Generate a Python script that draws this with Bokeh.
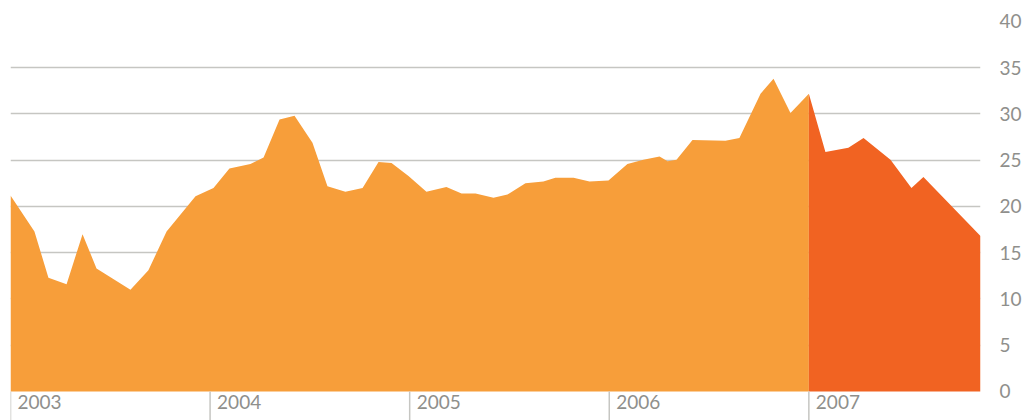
from bokeh.plotting import figure
from bokeh.models import Range1d, FixedTicker, LinearAxis
from bokeh.core.properties import value
from bokeh.embed import file_html
from bokeh.resources import INLINE

# Historical series (decimal year, value)
hist_x = [2003.000, 2003.120, 2003.190, 2003.281, 2003.361, 2003.431, 2003.601, 2003.691,
          2003.782, 2003.927, 2004.017, 2004.097, 2004.202, 2004.268, 2004.348, 2004.423,
          2004.513, 2004.588, 2004.678, 2004.764, 2004.844, 2004.909, 2004.994, 2005.084,
          2005.184, 2005.260, 2005.330, 2005.420, 2005.490, 2005.580, 2005.670, 2005.730,
          2005.821, 2005.901, 2005.996, 2006.091, 2006.171, 2006.252, 2006.292, 2006.337,
          2006.417, 2006.582, 2006.652, 2006.758, 2006.823, 2006.908, 2007.000]
hist_y = [21.2, 17.3, 12.3, 11.6, 17.0, 13.3, 11.0, 13.1,
          17.3, 21.1, 22.0, 24.1, 24.6, 25.3, 29.4, 29.8,
          26.9, 22.2, 21.6, 22.0, 24.8, 24.7, 23.3, 21.6,
          22.1, 21.4, 21.4, 20.95, 21.3, 22.5, 22.7, 23.1,
          23.1, 22.7, 22.8, 24.6, 25.05, 25.4, 24.9, 25.05,
          27.2, 27.1, 27.4, 32.2, 33.8, 30.1, 32.2]

# 2007 series
cur_x = [2007.000, 2007.083, 2007.198, 2007.274, 2007.409, 2007.514, 2007.574, 2007.860]
cur_y = [32.2, 25.9, 26.35, 27.4, 25.05, 22.0, 23.2, 16.8]

years = [2003, 2004, 2005, 2006, 2007]
year_labels = ["2003", "2004", "2005", "2006", "2007"]
y_ticks = [0, 5, 10, 15, 20, 25, 30, 35, 40]
grid_ticks = [5, 10, 15, 20, 25, 30, 35]

ORANGE = "#F79E3A"
RED = "#F16322"
LABEL = "#8f8f8c"
GRID = "#c6c6c2"
FONT = "Lato"

Y0, Y1 = -3.14, 42.27

p = figure(width=1024, height=420, output_backend="svg", toolbar_location=None,
           x_axis_location=None, y_axis_location=None,
           x_range=Range1d(2003.0, 2007.86), y_range=Range1d(Y0, Y1),
           min_border_left=10, min_border_top=0, min_border_bottom=0, min_border_right=40)
p.outline_line_color = None
p.xgrid.visible = False
p.ygrid.ticker = FixedTicker(ticks=grid_ticks)
p.ygrid.grid_line_color = GRID
p.ygrid.grid_line_width = 1.5

yaxis = LinearAxis(ticker=FixedTicker(ticks=y_ticks))
yaxis.axis_line_color = None
yaxis.major_tick_line_color = None
yaxis.minor_tick_line_color = None
yaxis.major_label_standoff = 13
yaxis.major_label_text_color = LABEL
yaxis.major_label_text_font = FONT
yaxis.major_label_text_font_size = "19px"
p.add_layout(yaxis, "right")

p.varea(x=hist_x, y1=[0] * len(hist_x), y2=hist_y, fill_color=ORANGE)
p.varea(x=cur_x, y1=[0] * len(cur_x), y2=cur_y, fill_color=RED)

p.segment(x0=years, y0=[0] * len(years), x1=years, y1=[Y0] * len(years),
          line_color=GRID, line_width=1.5)
p.text(x=years, y=[0] * len(years), text=year_labels, x_offset=7, y_offset=4,
       text_baseline="top", text_align="left", text_color=LABEL,
       text_font=value(FONT), text_font_size="19px")

open("out.html", "w").write(file_html(p, INLINE))
